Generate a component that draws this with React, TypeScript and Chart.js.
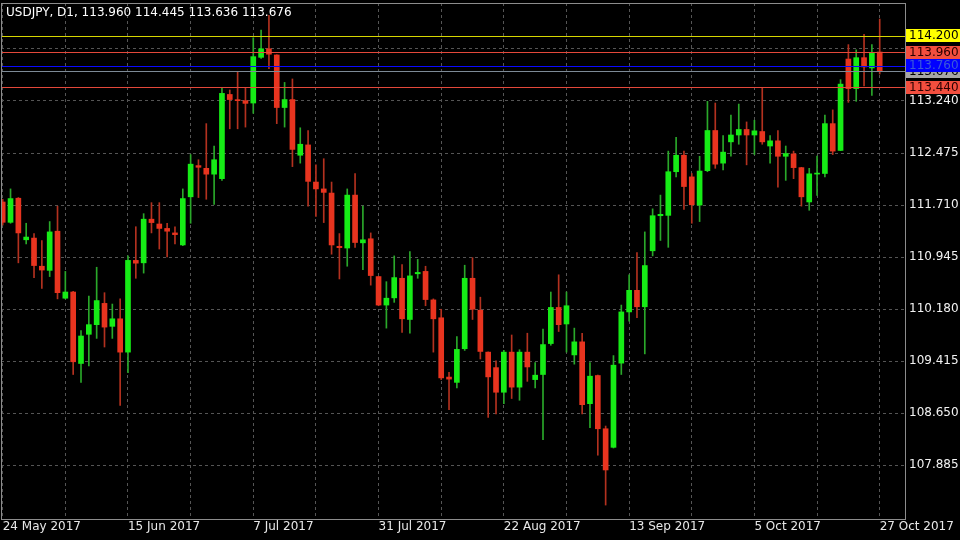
import React, { useEffect, useRef } from 'react';
import { Chart, registerables } from 'chart.js';

Chart.register(...registerables);

const SYMBOL = 'USDJPY';
const PERIOD = 'D1';

const openP = [
  111.755, 111.456, 111.81, 111.199, 111.224, 110.81, 110.749, 111.325, 110.34, 110.431,
  109.38, 109.809, 109.951, 110.264, 109.926, 110.037, 109.547, 110.896, 110.86, 111.502,
  111.431, 111.366, 111.3, 111.123, 111.831, 112.29, 112.25, 112.164, 112.098, 113.336,
  113.256, 113.245, 113.21, 113.882, 114.008, 113.917, 113.144, 113.261, 112.442, 112.594,
  112.048, 111.947, 111.886, 111.103, 111.078, 111.856, 111.154, 111.214, 110.658, 110.239,
  110.345, 110.633, 110.027, 110.699, 110.734, 110.315, 110.052, 109.18, 109.102, 109.597,
  110.633, 110.163, 109.547, 109.319, 108.957, 109.547, 109.032, 109.547, 109.143, 109.218,
  109.673, 110.204, 109.961, 109.506, 109.698, 108.789, 109.203, 108.42, 108.147, 109.385,
  110.138, 110.456, 110.214, 111.037, 111.553, 111.558, 112.2, 112.442, 112.124, 111.709,
  112.215, 112.806, 112.326, 112.639, 112.74, 112.821, 112.74, 112.791, 112.578, 112.654,
  112.427, 112.462, 112.26, 111.755, 112.165, 112.174, 112.907, 112.513, 113.857, 113.422,
  113.877, 113.726, 113.96,
];
const highP = [
  111.795, 111.947, 111.82, 111.442, 111.29, 111.189, 111.467, 111.694, 110.734, 110.441,
  109.865, 110.37, 110.795, 110.421, 110.254, 110.33, 110.962, 111.391, 111.583, 111.745,
  111.745, 111.442, 111.391, 111.947, 112.452, 112.376, 112.907, 112.578, 113.437, 113.402,
  113.675, 113.437, 114.17, 114.281, 114.499, 113.92, 113.513, 113.564, 112.846, 112.806,
  112.301, 112.391, 112.048, 111.29, 111.947, 112.174, 111.694, 111.3, 110.66, 110.583,
  110.962, 110.835, 111.027, 110.911, 110.81, 110.33, 110.178, 109.25, 109.774, 110.825,
  110.936, 110.355, 109.55, 109.42, 109.572, 109.799, 109.582, 109.825, 109.395, 109.885,
  110.431, 110.684, 110.431, 109.9, 109.825, 109.395, 109.21, 108.46, 109.496, 110.239,
  110.684, 111.012, 111.315, 111.654, 111.856, 112.503, 112.705, 112.503, 112.174, 112.427,
  113.235, 113.21, 112.73, 113.033, 113.195, 112.932, 112.957, 113.437, 112.73, 112.806,
  112.578, 112.503, 112.265, 112.25, 112.43, 113.033, 113.109, 113.554, 114.069, 113.993,
  114.221, 114.069, 114.445,
];
const lowP = [
  111.416, 111.442, 110.86, 111.138, 110.643, 110.482, 110.658, 110.33, 110.33, 109.218,
  109.102, 109.345, 109.749, 109.622, 109.749, 108.764, 109.244, 110.633, 110.709, 111.3,
  111.063, 110.946, 111.138, 111.113, 111.442, 111.82, 111.795, 111.72, 112.073, 112.831,
  112.831, 112.856, 113.059, 113.867, 113.715, 112.907, 112.856, 112.275, 112.326, 111.694,
  111.543, 111.452, 110.987, 110.623, 110.81, 111.088, 110.759, 110.532, 110.229, 109.9,
  110.279, 109.835, 109.825, 110.633, 110.229, 109.547, 109.143, 108.7, 109.022, 109.572,
  110.027, 109.446, 108.587, 108.637, 108.789, 108.865, 108.839, 109.117, 109.022, 108.258,
  109.648, 109.85, 109.547, 109.37, 108.637, 108.435, 108.031, 107.298, 108.137, 109.218,
  110.002, 110.052, 109.521, 110.962, 111.189, 111.088, 112.124, 111.644, 111.442, 111.467,
  112.2, 112.25, 112.225, 112.427, 112.604, 112.301, 112.452, 112.604, 112.326, 111.972,
  112.073, 112.098, 111.694, 111.633, 111.85, 112.124, 112.452, 112.51, 113.22, 113.235,
  113.463, 113.321, 113.636,
];
const closeP = [
  111.456, 111.805, 111.3, 111.239, 110.82, 110.754, 111.315, 110.421, 110.431, 109.405,
  109.784, 109.951, 110.305, 109.915, 110.037, 109.547, 110.896, 110.855, 111.502, 111.452,
  111.366, 111.325, 111.275, 111.805, 112.311, 112.265, 112.164, 112.376, 113.352, 113.261,
  113.245, 113.205, 113.892, 114.008, 113.928, 113.144, 113.261, 112.528, 112.604, 112.058,
  111.947, 111.896, 111.123, 111.083, 111.856, 111.159, 111.199, 110.673, 110.239, 110.34,
  110.643, 110.037, 110.668, 110.719, 110.32, 110.037, 109.168, 109.15, 109.587, 110.633,
  110.178, 109.557, 109.183, 108.957, 109.547, 109.032, 109.547, 109.329, 109.208, 109.658,
  110.204, 109.951, 110.229, 109.698, 108.774, 109.193, 108.42, 107.814, 109.355, 110.138,
  110.456, 110.214, 110.82, 111.553, 111.573, 112.2, 112.442, 111.982, 111.714, 112.21,
  112.806, 112.311, 112.488, 112.74, 112.821, 112.74, 112.801, 112.639, 112.654, 112.427,
  112.467, 112.26, 111.831, 112.169, 112.175, 112.907, 112.503, 113.488, 113.422, 113.877,
  113.741, 113.953, 113.676,
];

const xTickIndex = [0, 8, 16, 24, 32, 40, 48, 56, 64, 72, 80, 88, 96, 104, 112];
const xTickLabels = [
  '24 May 2017', '', '15 Jun 2017', '', '7 Jul 2017', '', '31 Jul 2017', '',
  '22 Aug 2017', '', '13 Sep 2017', '', '5 Oct 2017', '', '27 Oct 2017',
];
const yTickValues = [107.885, 108.65, 109.415, 110.18, 110.945, 111.71, 112.475, 113.24, 114.005];
const levelValues = [114.2, 113.96, 113.676, 113.76, 113.44];

// styles
const UP = '#16ec16';
const DOWN = '#e8341f';
const UP_WICK = '#2aa82a';
const DOWN_WICK = '#b3311f';
const LEVEL_LINE = ['#d6d600', '#e4483a', '#7d8a96', '#0a0aff', '#e4483a'];
const LEVEL_BG = ['#ffff00', '#f24e3e', '#a6a6a6', '#0000ff', '#f24e3e'];
const LEVEL_TEXT = ['#000000', '#2b0000', '#000000', '#3a5ad8', '#2b0000'];
const GRID = '#555555';
const FONT_FAMILY = '"DejaVu Sans", sans-serif';

export default function App() {
  const ref = useRef<HTMLCanvasElement>(null);

  useEffect(() => {
    const canvas = ref.current;
    if (!canvas) return;
    const idx = openP.map((_, i) => i);
    const isUp = idx.map((i) => closeP[i] >= openP[i]);
    const font = { family: FONT_FAMILY, size: 12 };

    const overlay = {
      id: 'mtOverlay',
      afterDatasetsDraw(chart: any) {
        const { ctx, chartArea: a, scales } = chart;
        ctx.save();
        ctx.beginPath();
        ctx.rect(a.left, a.top, a.right - a.left, a.bottom - a.top);
        ctx.clip();
        ctx.setLineDash([]);
        levelValues.forEach((v, k) => {
          const y = Math.round(scales.y.getPixelForValue(v)) + 0.5;
          ctx.strokeStyle = LEVEL_LINE[k];
          ctx.lineWidth = 1;
          ctx.beginPath();
          ctx.moveTo(a.left, y);
          ctx.lineTo(a.right, y);
          ctx.stroke();
        });
        ctx.restore();
      },
      afterDraw(chart: any) {
        const { ctx, chartArea: a, scales, width } = chart;
        ctx.save();
        ctx.setLineDash([]);
        ctx.strokeStyle = '#8c8c8c';
        ctx.lineWidth = 1;
        ctx.strokeRect(a.left + 0.5, a.top + 0.5, a.right - a.left, a.bottom - a.top);
        ctx.font = `12px ${FONT_FAMILY}`;
        ctx.textBaseline = 'middle';
        ctx.textAlign = 'left';
        levelValues.forEach((v, k) => {
          const y = scales.y.getPixelForValue(v);
          ctx.fillStyle = LEVEL_BG[k];
          ctx.fillRect(a.right + 1, Math.round(y - 6.5), width - a.right - 1, 13);
          ctx.fillStyle = LEVEL_TEXT[k];
          ctx.fillText(v.toFixed(3), a.right + 4, y + 0.5);
        });
        const last = openP.length - 1;
        const header = `${SYMBOL}, ${PERIOD}, ${openP[last].toFixed(3)} ${highP[last].toFixed(3)} ${lowP[last].toFixed(3)} ${closeP[last].toFixed(3)}`;
        ctx.fillStyle = '#ffffff';
        ctx.fillText(header, 6, 13);
        ctx.restore();
      },
    };

    const chart = new Chart(canvas, {
      type: 'bar',
      data: {
        datasets: [
          {
            label: 'body',
            data: idx.map((i) => ({ x: i, y: [openP[i], closeP[i]] })) as any,
            backgroundColor: isUp.map((u) => (u ? UP : DOWN)),
            barThickness: 5,
            minBarLength: 1,
            grouped: false,
            borderWidth: 0,
            order: 0,
          } as any,
          {
            label: 'wick',
            data: idx.map((i) => ({ x: i, y: [lowP[i], highP[i]] })) as any,
            backgroundColor: isUp.map((u) => (u ? UP_WICK : DOWN_WICK)),
            barThickness: 1,
            grouped: false,
            borderWidth: 0,
            order: 1,
          } as any,
        ],
      },
      options: {
        responsive: false,
        animation: false,
        devicePixelRatio: 1,
        events: [],
        layout: { padding: { left: 1, top: 3, right: 0, bottom: 0 } },
        plugins: {
          legend: { display: false },
          tooltip: { enabled: false },
        },
        scales: {
          x: {
            type: 'linear',
            min: -0.217,
            max: 115.23,
            offset: false,
            bounds: 'data',
            afterBuildTicks: (s: any) => {
              s.ticks = xTickIndex.map((v) => ({ value: v }));
            },
            afterFit: (s: any) => {
              s.height = 21;
              s.paddingLeft = 0;
              s.paddingRight = 0;
            },
            ticks: {
              autoSkip: false,
              maxRotation: 0,
              minRotation: 0,
              align: 'start',
              padding: 1,
              color: '#e8e8e8',
              font,
              callback: (_v: any, i: number) => xTickLabels[i] ?? '',
            },
            grid: { color: GRID, drawTicks: false, offset: false, lineWidth: 1 },
            border: { display: false, dash: [3, 3] },
          } as any,
          y: {
            type: 'linear',
            position: 'right',
            min: 107.093,
            max: 114.681,
            beginAtZero: false,
            bounds: 'data',
            afterBuildTicks: (s: any) => {
              s.ticks = yTickValues.map((v) => ({ value: v }));
            },
            afterFit: (s: any) => {
              s.width = 55;
              s.paddingTop = 0;
              s.paddingBottom = 0;
            },
            ticks: {
              padding: 4,
              color: '#f2f2f2',
              font,
              callback: (v: any) =>
                levelValues.some((l) => Math.abs(l - Number(v)) < 0.15) ? '' : Number(v).toFixed(3),
            },
            grid: { color: GRID, drawTicks: false, lineWidth: 1 },
            border: { display: false, dash: [3, 3] },
          } as any,
        },
      },
      plugins: [overlay as any],
    });

    return () => chart.destroy();
  }, []);

  return (
    <div style={{ position: 'fixed', left: 0, top: 0, width: 960, height: 540, background: '#000' }}>
      <canvas ref={ref} width={960} height={540} style={{ display: 'block', width: 960, height: 540 }} />
    </div>
  );
}
